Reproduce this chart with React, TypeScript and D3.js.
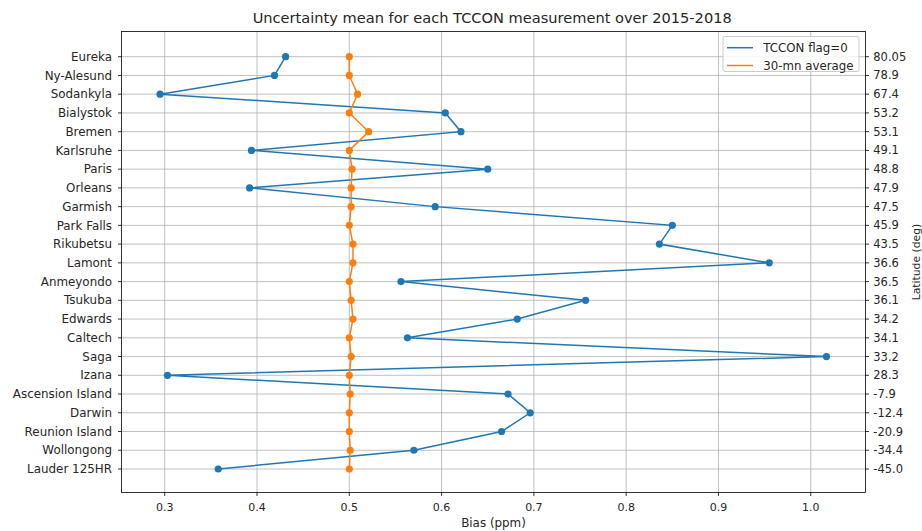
import React from "react";
import * as d3 from "d3";

const sites = ["Eureka","Ny-Alesund","Sodankyla","Bialystok","Bremen","Karlsruhe","Paris","Orleans","Garmish","Park Falls","Rikubetsu","Lamont","Anmeyondo","Tsukuba","Edwards","Caltech","Saga","Izana","Ascension Island","Darwin","Reunion Island","Wollongong","Lauder 125HR"];
const latitudes = ["80.05","78.9","67.4","53.2","53.1","49.1","48.8","47.9","47.5","45.9","43.5","36.6","36.5","36.1","34.2","34.1","33.2","28.3","-7.9","-12.4","-20.9","-34.4","-45.0"];
const flag0 = [0.431,0.419,0.295,0.604,0.621,0.394,0.650,0.392,0.593,0.850,0.836,0.955,0.556,0.756,0.682,0.563,1.017,0.303,0.672,0.696,0.665,0.570,0.358];
const avg30 = [0.500,0.500,0.509,0.500,0.521,0.500,0.503,0.502,0.502,0.500,0.504,0.504,0.500,0.502,0.504,0.500,0.502,0.500,0.501,0.500,0.500,0.501,0.500];
const xTicks = [0.3,0.4,0.5,0.6,0.7,0.8,0.9,1.0];

const W = 922, H = 531;
const L = 121.5, R = 865.5, T = 31.5, B = 492.5;
const FONT = "DejaVu Sans, sans-serif";
const BLUE = "#1f77b4", ORANGE = "#ff7f0e";
const TXT = "#262626";

export default function App() {
  const x = d3.scaleLinear().domain([0.2532, 1.0593]).range([L, R]);
  const y = d3.scaleLinear().domain([0, sites.length - 1]).range([56.7, 469]);
  const line = d3.line<number>().x((v) => x(v)).y((_, i) => y(i));
  return (
    <svg width={W} height={H} style={{ position: "absolute", left: 0, top: 0 }} fontFamily={FONT}>
      <rect x={0} y={0} width={W} height={H} fill="#fff" />
      <text x={492.2} y={22.5} textAnchor="middle" fontSize={14.6} fill={TXT}>
        Uncertainty mean for each TCCON measurement over 2015-2018
      </text>
      {/* grid */}
      {xTicks.map((t) => (
        <line key={"gx" + t} x1={x(t)} x2={x(t)} y1={T} y2={B} stroke="#b0b0b0" strokeWidth={0.8} />
      ))}
      {sites.map((s, i) => (
        <line key={"gy" + s} x1={L} x2={R} y1={y(i)} y2={y(i)} stroke="#b0b0b0" strokeWidth={0.8} />
      ))}
      {/* series */}
      <path d={line(flag0) || ""} fill="none" stroke={BLUE} strokeWidth={1.5} />
      {flag0.map((v, i) => (
        <circle key={"b" + i} cx={x(v)} cy={y(i)} r={3.6} fill={BLUE} />
      ))}
      <path d={line(avg30) || ""} fill="none" stroke={ORANGE} strokeWidth={1.5} />
      {avg30.map((v, i) => (
        <circle key={"o" + i} cx={x(v)} cy={y(i)} r={3.6} fill={ORANGE} />
      ))}
      {/* frame */}
      <rect x={L} y={T} width={R - L} height={B - T} fill="none" stroke="#000" strokeWidth={0.8} />
      {/* x ticks */}
      {xTicks.map((t) => (
        <g key={"xt" + t}>
          <line x1={x(t)} x2={x(t)} y1={B} y2={B + 3.5} stroke="#000" strokeWidth={0.8} />
          <text x={x(t)} y={510.8} textAnchor="middle" fontSize={11} fill={TXT}>
            {d3.format(".1f")(t)}
          </text>
        </g>
      ))}
      <text x={493.5} y={526.5} textAnchor="middle" fontSize={11.9} fill={TXT}>Bias (ppm)</text>
      {/* left y ticks */}
      {sites.map((s, i) => (
        <g key={"yl" + s}>
          <line x1={L - 3.5} x2={L} y1={y(i)} y2={y(i)} stroke="#000" strokeWidth={0.8} />
          <text x={112} y={y(i)} dy="0.35em" textAnchor="end" fontSize={11.9} fill={TXT}>{s}</text>
        </g>
      ))}
      {/* right y ticks */}
      {latitudes.map((s, i) => (
        <g key={"yr" + i}>
          <line x1={R} x2={R + 3.5} y1={y(i)} y2={y(i)} stroke="#000" strokeWidth={0.8} />
          <text x={873.3} y={y(i)} dy="0.35em" textAnchor="start" fontSize={11.5} fill={TXT}>{s}</text>
        </g>
      ))}
      <text transform={`translate(919.5,${(T + B) / 2}) rotate(-90)`} textAnchor="middle" fontSize={10.8} fill={TXT}>
        Latitude (deg)
      </text>
      {/* legend */}
      <g>
        <rect x={723} y={36.5} width={136} height={35} rx={2} fill="#fff" fillOpacity={0.8} stroke="#cccccc" strokeWidth={1} />
        <line x1={727} x2={753} y1={47.7} y2={47.7} stroke={BLUE} strokeWidth={1.5} />
        <text x={763.3} y={47.7} dy="0.35em" fontSize={11.8} fill={TXT}>TCCON flag=0</text>
        <line x1={727} x2={753} y1={65.5} y2={65.5} stroke={ORANGE} strokeWidth={1.5} />
        <text x={763.3} y={65.5} dy="0.35em" fontSize={11.8} fill={TXT}>30-mn average</text>
      </g>
    </svg>
  );
}
